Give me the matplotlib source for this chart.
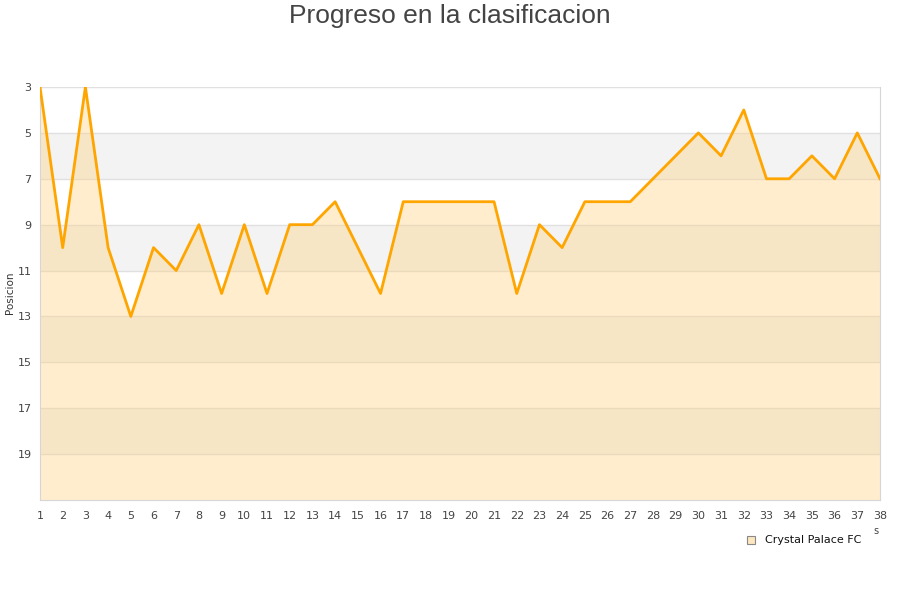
import matplotlib
matplotlib.use("Agg")
import matplotlib.pyplot as plt
import numpy as np

# datos de la clasificacion por jornada
jornadas = list(range(1, 39))
posicion = [3, 10, 3, 10, 13, 10, 11, 9, 12, 9,
            12, 9, 9, 8, 10, 12, 8, 8, 8, 8,
            8, 12, 9, 10, 8, 8, 8, 7, 6, 5,
            6, 4, 7, 7, 6, 7, 5, 7]
equipo = "Crystal Palace FC"
y_ticks = [3, 5, 7, 9, 11, 13, 15, 17, 19]

fig = plt.figure(figsize=(9, 6), dpi=100)
ax = fig.add_axes([40/900, 100/600, 840/900, 413/600])

# bandas alternas
for i, lo in enumerate(range(3, 21, 2)):
    if i % 2 == 1:
        ax.axhspan(lo, lo + 2, color="#f3f3f3", zorder=0, lw=0)
for t in y_ticks:
    ax.axhline(t, color="#e0e0e0", lw=1, zorder=1)

ax.fill_between(jornadas, posicion, 21, color="#ffd27f", alpha=0.38,
                lw=0, zorder=2)
ax.plot(jornadas, posicion, color="#ffa500", lw=2.0, zorder=3)

ax.set_xlim(1, 38)
ax.set_ylim(21, 3)
ax.set_xticks(jornadas)
ax.set_yticks(y_ticks)
ax.tick_params(length=0, labelsize=8, colors="#444444")
ax.tick_params(axis="x", pad=8)
ax.tick_params(axis="y", pad=6)
for s in ["left", "bottom", "right"]:
    ax.spines[s].set_color("#d6d6d6")
ax.spines["top"].set_visible(False)

fig.text(10/900, 1 - 293/600, "Posicion", rotation=90, ha="center",
         va="center", fontsize=7.5, color="#333333")
fig.text(0.5, 1 - 16/600, "Progreso en la clasificacion", ha="center",
         va="center", fontsize=19, color="#444444",
         family=["Liberation Sans", "DejaVu Sans"])

# leyenda
fig.patches.append(plt.Rectangle((747/900, 1 - 544/600), 8/900, 8/600,
                                 transform=fig.transFigure,
                                 facecolor="#fde7c0", edgecolor="#888888",
                                 lw=0.8))
fig.text(765/900, 1 - 540/600, equipo, fontsize=8, color="#111111",
         va="center", ha="left")
fig.text(876/900, 1 - 531/600, "s", fontsize=7, color="#444444",
         va="center", ha="center")

fig.savefig("out.png", dpi=100)
